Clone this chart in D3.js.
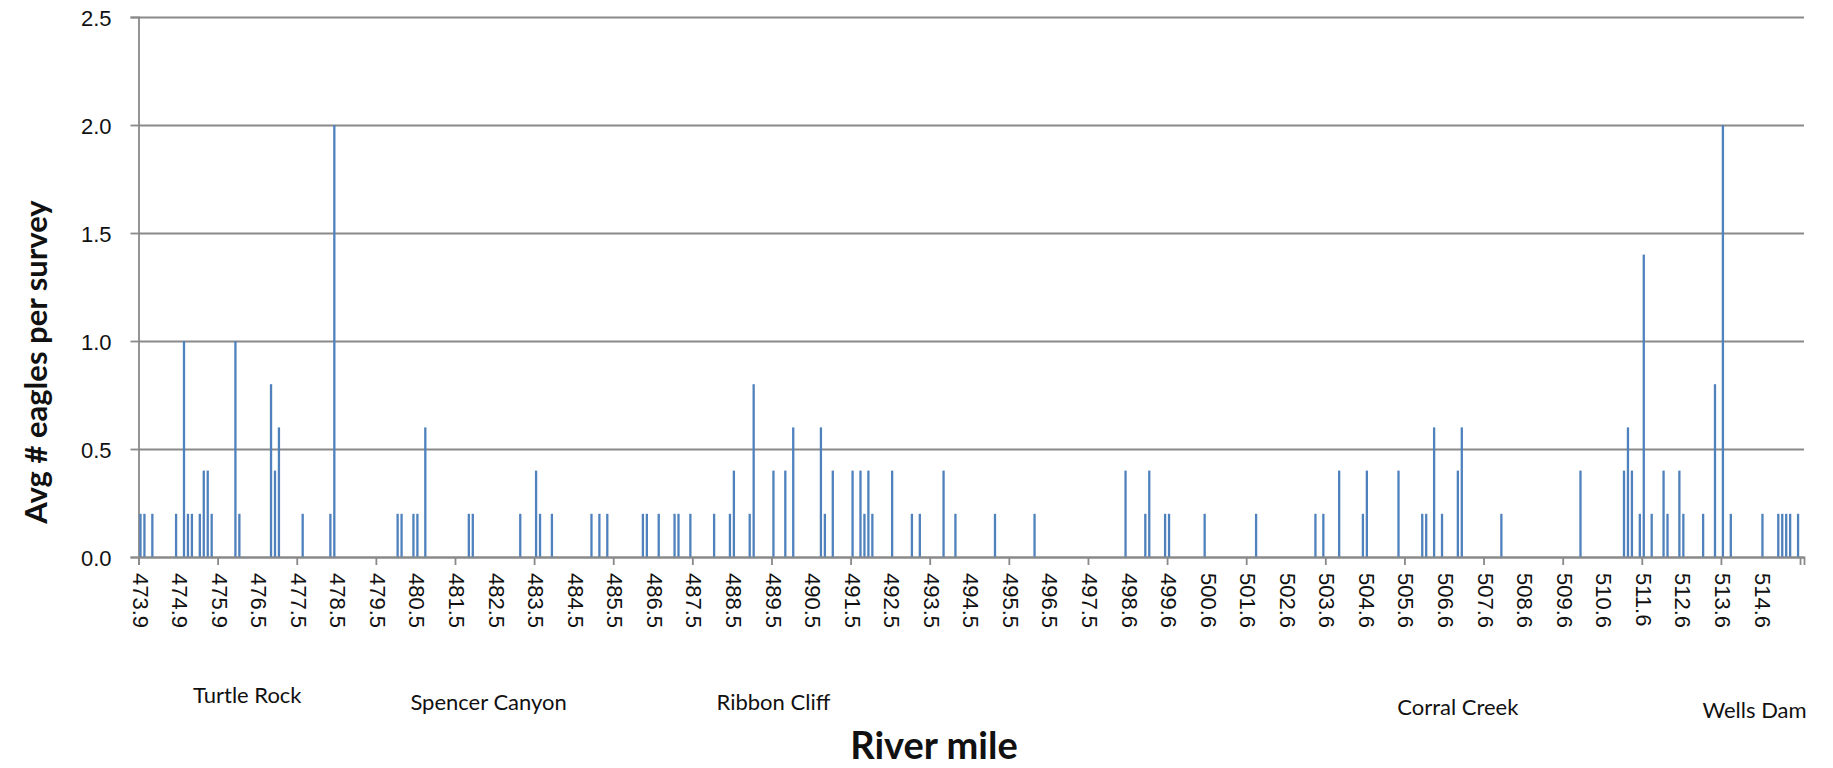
<!DOCTYPE html>
<html>
<head>
<meta charset="utf-8">
<script src="https://cdn.jsdelivr.net/npm/d3@7"></script>
<style>
  body { margin: 0; background: #fff; }
  svg { display: block; font-family: Lato, "Open Sans", sans-serif; }
</style>
</head>
<body>
<div id="chart"></div>
<script>
// River mile labels, one every 10 survey segments
const riverMileTicks = [
  '473.9', '474.9', '475.9', '476.5', '477.5', '478.5', '479.5', '480.5', '481.5', '482.5',
  '483.5', '484.5', '485.5', '486.5', '487.5', '488.5', '489.5', '490.5', '491.5', '492.5',
  '493.5', '494.5', '495.5', '496.5', '497.5', '498.6', '499.6', '500.6', '501.6', '502.6',
  '503.6', '504.6', '505.6', '506.6', '507.6', '508.6', '509.6', '510.6', '511.6', '512.6',
  '513.6', '514.6'
];
const segmentCount = 421;

// segment index (0 = 473.9) and avg eagles per survey, only non-zero segments
const eagleSegments = [
  0, 1, 3, 9, 11, 12, 13, 15, 16, 17, 18, 24, 25, 33, 34, 35, 41, 48, 49,
  65, 66, 69, 70, 72, 83, 84, 96, 100, 101, 104, 114, 116, 118, 127, 128, 131, 135, 136,
  139, 145, 149, 150, 154, 155, 160, 163, 165, 172, 173, 175, 180, 182, 183, 184, 185,
  190, 195, 197, 203, 206, 216, 226, 249, 254, 255, 259, 260, 269, 282, 297, 299, 303,
  309, 310, 318, 324, 325, 327, 329, 333, 334, 344, 364, 375, 376, 377, 379, 380, 382,
  385, 386, 389, 390, 395, 398, 400, 402, 410, 414, 415, 416, 417, 419
];
const eagleValues = [
  0.2, 0.2, 0.2, 0.2, 1.0, 0.2, 0.2, 0.2, 0.4, 0.4, 0.2, 1.0, 0.2, 0.8, 0.4, 0.6, 0.2, 0.2, 2.0,
  0.2, 0.2, 0.2, 0.2, 0.6, 0.2, 0.2, 0.2, 0.4, 0.2, 0.2, 0.2, 0.2, 0.2, 0.2, 0.2, 0.2, 0.2, 0.2,
  0.2, 0.2, 0.2, 0.4, 0.2, 0.8, 0.4, 0.4, 0.6, 0.6, 0.2, 0.4, 0.4, 0.4, 0.2, 0.4, 0.2,
  0.4, 0.2, 0.2, 0.4, 0.2, 0.2, 0.2, 0.4, 0.2, 0.4, 0.2, 0.2, 0.2, 0.2, 0.2, 0.2, 0.4,
  0.2, 0.4, 0.4, 0.2, 0.2, 0.6, 0.2, 0.4, 0.6, 0.2, 0.4, 0.4, 0.6, 0.4, 0.2, 1.4, 0.2,
  0.4, 0.2, 0.4, 0.2, 0.2, 0.8, 2.0, 0.2, 0.2, 0.2, 0.2, 0.2, 0.2, 0.2
];
const yTicks = [0, 0.5, 1.0, 1.5, 2.0, 2.5];

// landmark names printed under the axis, placed at a segment index
const landmarkNames = ['Turtle Rock', 'Spencer Canyon', 'Ribbon Cliff', 'Corral Creek', 'Wells Dam'];
const landmarkSegments = [27, 88, 160, 333, 408];

const width = 1833;
const height = 768;
const margin = { top: 17, right: 29, bottom: 211, left: 138.5 };
const innerW = width - margin.left - margin.right;
const innerH = height - margin.top - margin.bottom;

const svg = d3.select('#chart').append('svg')
  .attr('width', width)
  .attr('height', height);

const g = svg.append('g')
  .attr('transform', `translate(${margin.left},${margin.top})`);

const x = d3.scaleBand()
  .domain(d3.range(segmentCount))
  .range([0, innerW])
  .paddingInner(0.42)
  .paddingOuter(0.21);

// edges of the segments, for the tick marks between categories
const xEdge = d3.scaleLinear().domain([0, segmentCount]).range([0, innerW]);

const y = d3.scaleLinear().domain([0, 2.5]).range([innerH, 0]);

const axisColor = '#898989';

// gridlines
g.append('g')
  .call(d3.axisLeft(y).tickValues(yTicks).tickSize(-innerW).tickFormat(''))
  .call((s) => s.select('.domain').remove())
  .selectAll('line')
  .attr('stroke', axisColor)
  .attr('stroke-width', 1.8);

// y axis
const yAxis = g.append('g')
  .call(d3.axisLeft(y).tickValues(yTicks).tickSize(8).tickPadding(19).tickFormat(d3.format('.1f')));
yAxis.select('.domain').attr('stroke', axisColor).attr('stroke-width', 1.8);
yAxis.selectAll('line').attr('stroke', axisColor).attr('stroke-width', 1.8);
yAxis.selectAll('text')
  .attr('dy', '0.38em')
  .style('font-size', '22px')
  .attr('fill', '#111');

// bars
const bars = eagleSegments.map((s, i) => ({ seg: s, value: eagleValues[i] }));
g.selectAll('.bar')
  .data(bars)
  .enter()
  .append('rect')
  .attr('class', 'bar')
  .attr('x', (d) => x(d.seg))
  .attr('y', (d) => y(d.value))
  .attr('width', x.bandwidth())
  .attr('height', (d) => innerH - y(d.value))
  .attr('fill', '#4F81BD');

// x axis tick marks every 20 segments
const xTickAxis = g.append('g')
  .attr('transform', `translate(0,${innerH})`)
  .call(d3.axisBottom(xEdge).tickValues(d3.range(0, segmentCount, 20)).tickSize(8).tickFormat(''));
xTickAxis.select('.domain').attr('stroke', axisColor).attr('stroke-width', 1.8);
xTickAxis.selectAll('line').attr('stroke', axisColor).attr('stroke-width', 1.8);

// x labels every 10 segments, rotated
g.append('g')
  .attr('transform', `translate(0,${innerH})`)
  .call(d3.axisBottom(x)
    .tickValues(d3.range(0, segmentCount, 10))
    .tickSize(0)
    .tickFormat((i) => riverMileTicks[i / 10]))
  .call((s) => s.select('.domain').remove())
  .selectAll('text')
  .attr('y', 0)
  .attr('x', 16)
  .attr('dy', '0.36em')
  .attr('transform', 'rotate(90)')
  .style('text-anchor', 'start')
  .style('font-size', '22px')
  .attr('fill', '#111');

// landmarks
const landmarkY = [695, 702, 702, 707, 710];
g.selectAll('.landmark')
  .data(landmarkNames)
  .enter()
  .append('text')
  .attr('class', 'landmark')
  .attr('x', (d, i) => x(landmarkSegments[i]) + x.bandwidth() / 2)
  .attr('y', (d, i) => landmarkY[i] - margin.top)
  .attr('dy', '0.35em')
  .attr('text-anchor', 'middle')
  .style('font-size', '22px')
  .attr('fill', '#111')
  .text((d) => d);

// axis titles
svg.append('text')
  .attr('x', 934)
  .attr('y', 746)
  .attr('dy', '0.35em')
  .attr('text-anchor', 'middle')
  .style('font-size', '38px')
  .style('font-weight', 'bold')
  .attr('fill', '#111')
  .text('River mile');

svg.append('text')
  .attr('transform', 'translate(36,362) rotate(-90)')
  .attr('dy', '0.35em')
  .attr('text-anchor', 'middle')
  .style('font-size', '31px')
  .style('font-weight', 'bold')
  .attr('fill', '#111')
  .text('Avg # eagles per survey');
</script>
</body>
</html>
